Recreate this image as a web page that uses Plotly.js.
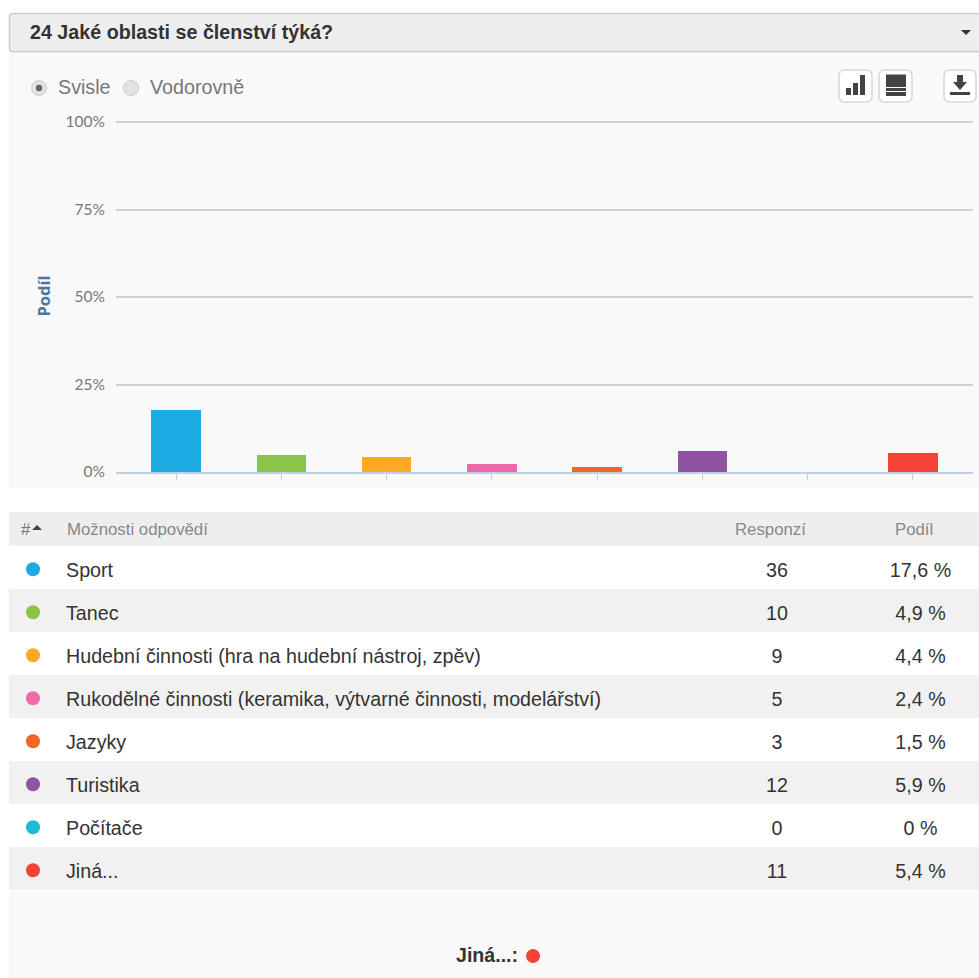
<!DOCTYPE html>
<html lang="cs">
<head>
<meta charset="utf-8">
<title>24 Jaké oblasti se členství týká?</title>
<script src="https://cdn.plot.ly/plotly-3.0.1.min.js"></script>
<style>html,body{margin:0;padding:0;background:#fff;overflow:hidden}#chart{width:979px;height:978px}</style>
</head>
<body>
<div id="chart"></div>
<script>
// Survey results
const questionTitle = "24 Jaké oblasti se členství týká?";
const categories = ["Sport", "Tanec", "Hudební činnosti (hra na hudební nástroj, zpěv)",
  "Rukodělné činnosti (keramika, výtvarné činnosti, modelářství)", "Jazyky", "Turistika", "Počítače", "Jiná..."];
const responses = [36, 10, 9, 5, 3, 12, 0, 11];
const shares = [17.6, 4.9, 4.4, 2.4, 1.5, 5.9, 0, 5.4];
const shareLabels = ["17,6 %", "4,9 %", "4,4 %", "2,4 %", "1,5 %", "5,9 %", "0 %", "5,4 %"];
const colors = ["#1eaae2", "#8bc446", "#ffa726", "#ec6aa9", "#f26522", "#8e54a2", "#1bbcd3", "#f44336"];
const yTicks = [0, 25, 50, 75, 100];
const yTickLabels = ["0%", "25%", "50%", "75%", "100%"];

// Page geometry, in pixels
const W = 979, H = 978;
const px = v => v / W;
const py = v => 1 - v / H;
const FONT = "Liberation Sans, Arial, sans-serif";
const rowIdx = categories.map((_, i) => i);
const barIdx = categories.map((_, i) => i);
const col = {dot: 33, label: 66, responses: 777, share: 920.5};
// vertical nudges inside a table row, in row heights
const dotNudge = 0.04, textNudge = 0.11;

function rect(x0, y0, x1, y1, fill, extra) {
  return Object.assign({type: "rect", xref: "paper", yref: "paper", layer: "below",
    x0: px(x0), x1: px(x1), y0: py(y0), y1: py(y1), fillcolor: fill, line: {width: 0}}, extra || {});
}
function pxPath(points, fill) {
  const d = points.map((p, i) => (i ? "L" : "M") + px(p[0]) + "," + py(p[1])).join(" ") + " Z";
  return {type: "path", xref: "paper", yref: "paper", path: d, fillcolor: fill, line: {width: 0}};
}
function circle(cx, cy, r, fill, stroke) {
  return {type: "circle", xref: "paper", yref: "paper", x0: px(cx - r), x1: px(cx + r), y0: py(cy + r), y1: py(cy - r),
    fillcolor: fill, line: {width: stroke ? 1 : 0, color: stroke || fill}};
}
function rounded(x0, y0, x1, y1, r, fill, stroke, layer, width) {
  const X = px, Y = py;
  const d = `M${X(x0 + r)},${Y(y0)} L${X(x1 - r)},${Y(y0)} Q${X(x1)},${Y(y0)} ${X(x1)},${Y(y0 + r)} L${X(x1)},${Y(y1 - r)} Q${X(x1)},${Y(y1)} ${X(x1 - r)},${Y(y1)} L${X(x0 + r)},${Y(y1)} Q${X(x0)},${Y(y1)} ${X(x0)},${Y(y1 - r)} L${X(x0)},${Y(y0 + r)} Q${X(x0)},${Y(y0)} ${X(x0 + r)},${Y(y0)} Z`;
  return {type: "path", xref: "paper", yref: "paper", layer: layer || "above", path: d, fillcolor: fill, line: {width: width || 1, color: stroke}};
}
function note(x, y, text, size, color, anchor, extra) {
  return Object.assign({xref: "paper", yref: "paper", x: px(x), y: py(y), text, showarrow: false, borderpad: 0, borderwidth: 0,
    xanchor: anchor || "left", yanchor: "middle", font: {family: FONT, size, color}}, extra || {});
}

const ICON = "#444444";
const shapes = [
  rect(9, 52, 979, 488, "#f9f9f9"),
  rect(9, 891, 979, 978, "#f9f9f9"),
  rounded(9.5, 13.5, 985, 51.5, 3, "#eeeeee", "#cccccc", "below", 1.5),
  rect(9, 512, 979, 546, "#eeeeee"),
  // dropdown arrow
  pxPath([[961, 30], [971, 30], [966, 35]], "#333333"),
  // orientation radios
  circle(39, 88, 7.5, "#e2e2e2", "#cccccc"),
  circle(39, 88, 3.2, "#666666"),
  circle(131, 88, 7.5, "#e2e2e2", "#cccccc"),
  // toolbar buttons
  rounded(839, 70, 872, 102, 6, "#ffffff", "#d8d8d8", "above", 1.5),
  rounded(879, 70, 912, 102, 6, "#ffffff", "#d8d8d8", "above", 1.5),
  rounded(944, 70, 976, 102, 6, "#ffffff", "#d8d8d8", "above", 1.5),
  rect(846, 88, 851, 95, ICON, {layer: "above"}),
  rect(853, 83, 858, 95, ICON, {layer: "above"}),
  rect(860, 75, 865, 95, ICON, {layer: "above"}),
  rect(886, 74.5, 906, 87, ICON, {layer: "above"}),
  rect(886, 88, 906, 91, ICON, {layer: "above"}),
  rect(886, 92, 906, 96, ICON, {layer: "above"}),
  pxPath([[957, 75], [963, 75], [963, 82], [967, 82], [960, 90], [953, 82], [957, 82]], ICON),
  rect(950, 92, 970, 95, ICON, {layer: "above"})
];
// striped rows of the answer table
rowIdx.forEach(i => {
  shapes.push({type: "rect", xref: "paper", yref: "y2", layer: "below", x0: px(9), x1: 1,
    y0: i - 0.5, y1: i + 0.5, fillcolor: i % 2 ? "#f1f1f1" : "#ffffff", line: {width: 0}});
});
// sort marker in the table header
shapes.push(pxPath([[32, 530], [42, 530], [37, 525]], "#444444"));
shapes.push(circle(533, 956, 7, colors[7]));

const annotations = [
  note(30, 32, "<b>" + questionTitle + "</b>", 19.7, "#333333"),
  note(58, 87, "Svisle", 19.7, "#777777"),
  note(150, 87, "Vodorovně", 19.7, "#777777"),
  note(21, 529, "#", 16.8, "#777777"),
  note(67, 529, "Možnosti odpovědí", 16.8, "#888888"),
  note(770, 529, "Responzí", 16.8, "#888888", "center"),
  note(913.5, 529, "Podíl", 16.8, "#888888", "center"),
  note(487, 955, "<b>Jiná...:</b>", 19.6, "#333333", "center")
];

const rowText = {family: FONT, size: 19.7, color: "#333333"};
const traces = [
  // share of answers per option
  {type: "bar", x: barIdx, y: shares, xaxis: "x", yaxis: "y", width: 0.47,
    marker: {color: colors, line: {width: 0}}, hoverinfo: "y"},
  // table: colour dots
  {type: "scatter", mode: "markers", x: rowIdx.map(() => col.dot), y: rowIdx.map(i => i + dotNudge), xaxis: "x2", yaxis: "y2",
    marker: {size: 14, color: colors}, hoverinfo: "skip"},
  // table: option names
  {type: "scatter", mode: "text", x: rowIdx.map(() => col.label), y: rowIdx.map(i => i + textNudge), xaxis: "x2", yaxis: "y2",
    text: categories, textposition: "middle right", textfont: rowText, hoverinfo: "skip"},
  // table: response counts
  {type: "scatter", mode: "text", x: rowIdx.map(() => col.responses), y: rowIdx.map(i => i + textNudge), xaxis: "x2", yaxis: "y2",
    text: responses.map(String), textposition: "middle center", textfont: rowText, hoverinfo: "skip"},
  // table: percentage shares
  {type: "scatter", mode: "text", x: rowIdx.map(() => col.share), y: rowIdx.map(i => i + textNudge), xaxis: "x2", yaxis: "y2",
    text: shareLabels, textposition: "middle center", textfont: rowText, hoverinfo: "skip"}
];

const layout = {
  width: W, height: H, margin: {l: 0, r: 0, t: 0, b: 0, pad: 0},
  paper_bgcolor: "#ffffff", plot_bgcolor: "rgba(0,0,0,0)", showlegend: false, bargap: 0,
  xaxis: {domain: [px(116), px(973)], anchor: "y", range: [-0.57, 7.57], tickmode: "array", tickvals: barIdx,
    showticklabels: false, ticks: "outside", ticklen: 6, tickcolor: "#c0d0e0", tickwidth: 1,
    showgrid: false, zeroline: false, showline: true, linecolor: "#c0d0e0", linewidth: 2},
  yaxis: {domain: [py(472), py(120)], anchor: "x", range: [0, 100.57], tickmode: "array", tickvals: yTicks, ticktext: yTickLabels,
    tickfont: {family: "Lato, sans-serif", size: 15.5, color: "#777777"}, ticks: "", ticklabelstandoff: 10,
    gridcolor: "#d0d0d0", gridwidth: 1.5, zeroline: false,
    title: {text: "<b>Podíl</b>", font: {family: "Open Sans, sans-serif", size: 16.5, color: "#4d759e"}, standoff: 10}, automargin: false},
  xaxis2: {domain: [0, 1], anchor: "y2", range: [0, W], visible: false, fixedrange: true},
  yaxis2: {domain: [py(890), py(546)], anchor: "x2", range: [7.5, -0.5], visible: false, fixedrange: true},
  shapes, annotations
};

Plotly.newPlot("chart", traces, layout, {displayModeBar: false, responsive: false});
</script>
</body>
</html>
